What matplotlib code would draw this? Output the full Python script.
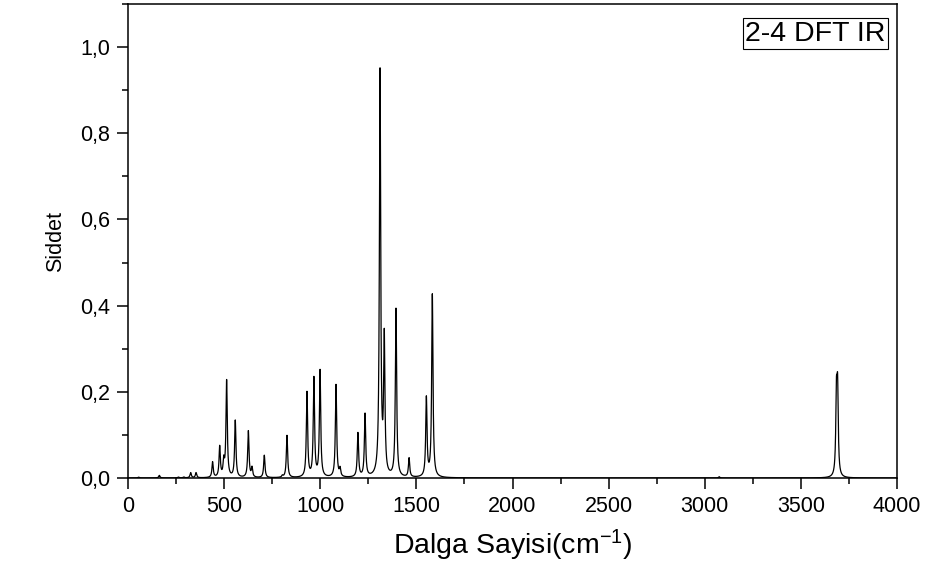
import numpy as np
import matplotlib
matplotlib.use("Agg")
import matplotlib.pyplot as plt
from matplotlib.ticker import MultipleLocator, FuncFormatter

plt.rcParams['font.family'] = ['Liberation Sans', 'DejaVu Sans']
plt.rcParams['mathtext.default'] = 'regular'

# hesaplanan titresim frekanslari (cm-1) ve pik yukseklikleri
frekans = [55, 163, 262, 290, 326, 354, 440, 477, 498, 513, 558, 626, 645, 709,
           803, 827, 931, 967, 999, 1082, 1103, 1196, 1233, 1311, 1333, 1394,
           1462, 1552, 1583, 3075, 3685, 3691]
siddet = [0.002, 0.006, 0.002, 0.002, 0.012, 0.012, 0.036, 0.071, 0.035, 0.224,
          0.132, 0.108, 0.022, 0.052, 0.004, 0.098, 0.197, 0.229, 0.247, 0.215,
          0.018, 0.102, 0.146, 0.94, 0.315, 0.39, 0.044, 0.183, 0.424, 0.003,
          0.178, 0.188]
yari_genislik = 4.0  # Lorentz HWHM, cm-1

x = np.arange(0, 4000.5, 0.5)
y = np.zeros_like(x)
for f0, a in zip(frekans, siddet):
    y += a / (1 + ((x - f0) / yari_genislik) ** 2)

fig = plt.figure(figsize=(9.32, 5.71), dpi=100)
ax = fig.add_axes([128 / 932, 93 / 571, 769 / 932, 474 / 571])
ax.plot(x, y, color='black', lw=0.9)

ax.set_xlim(0, 4000)
ax.set_ylim(0, 1.1)
ax.xaxis.set_major_locator(MultipleLocator(500))
ax.xaxis.set_minor_locator(MultipleLocator(250))
ax.yaxis.set_major_locator(MultipleLocator(0.2))
ax.yaxis.set_minor_locator(MultipleLocator(0.1))
ax.yaxis.set_major_formatter(FuncFormatter(lambda v, p: f"{v:.1f}".replace('.', ',')))
ax.tick_params(which='both', direction='out', top=False, right=False,
               width=1.1, labelsize=15.5)
ax.tick_params(which='major', length=8)
ax.tick_params(axis='x', which='major', pad=5)
ax.tick_params(axis='y', which='major', pad=5)
ax.tick_params(which='minor', length=4.5)
for s in ax.spines.values():
    s.set_linewidth(1.1)

ax.set_xlabel("Dalga Sayisi(cm$^{-1}$)", fontsize=20.5, labelpad=8)
ax.set_ylabel("Siddet", fontsize=15.5, labelpad=10)

ax.text(0.985, 0.965, "2-4 DFT IR", transform=ax.transAxes, ha='right', va='top',
        fontsize=20.5, bbox=dict(boxstyle='square,pad=0.08', fc='white', ec='black', lw=0.8))

fig.savefig("out.png", dpi=100)
